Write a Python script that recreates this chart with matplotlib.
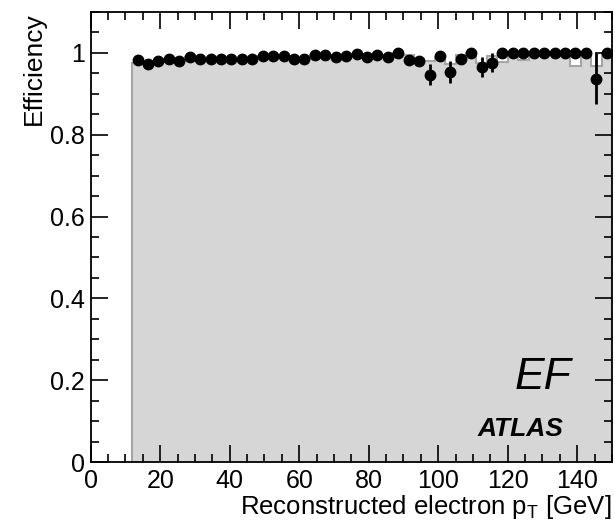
import numpy as np
import matplotlib
matplotlib.use("Agg")
from matplotlib import pyplot as plt
from matplotlib.ticker import MultipleLocator

# 3 GeV bins from 12 to 150 GeV
bin_edges = np.arange(12, 151, 3)
bin_centers = 0.5 * (bin_edges[:-1] + bin_edges[1:])

# measured efficiency (points)
eff = [0.982, 0.974, 0.980, 0.985, 0.980, 0.990, 0.986, 0.986, 0.986, 0.986,
       0.986, 0.986, 0.993, 0.993, 0.993, 0.986, 0.986, 0.996, 0.996, 0.990,
       0.992, 0.997, 0.990, 0.996, 0.990, 1.000, 0.982, 0.980, 0.947, 0.992,
       0.953, 0.984, 1.000, 0.966, 0.976, 1.000, 1.000, 1.000, 1.000, 1.000,
       1.000, 1.000, 1.000, 1.000, 0.937, 1.000]
eff_err = [0.003] * 26 + [0.005, 0.005, 0.026, 0.004, 0.026, 0.012, 0.0, 0.024, 0.023,
                         0.0, 0.0, 0.0, 0.0, 0.0, 0.0, 0.0, 0.0, 0.0, 0.062, 0.0]

# simulation (grey histogram)
mc_eff = [0.975, 0.974, 0.980, 0.985, 0.980, 0.990, 0.986, 0.986, 0.986, 0.986,
          0.986, 0.986, 0.993, 0.993, 0.993, 0.986, 0.986, 0.996, 0.996, 0.990,
          0.992, 0.997, 0.990, 0.996, 0.990, 1.000, 0.994, 0.985, 0.980, 0.990,
          0.974, 0.994, 1.000, 0.976, 0.992, 0.978, 1.000, 0.982, 1.000, 1.000,
          1.000, 1.000, 0.968, 1.000, 0.968, 1.000]

plt.rcParams['font.family'] = ['Liberation Sans', 'DejaVu Sans']
plt.rcParams['mathtext.fontset'] = 'custom'
plt.rcParams['mathtext.rm'] = 'Liberation Sans'
plt.rcParams['mathtext.it'] = 'Liberation Sans:italic'

fig = plt.figure(figsize=(6.15, 5.21), dpi=100)
ax = fig.add_axes([0.1475, 0.1132, 0.8475, 0.8638])

ax.stairs(mc_eff, bin_edges, fill=True, facecolor='#d6d6d6', edgecolor='#a6a6a6',
          linewidth=1.5, zorder=1)
ax.errorbar(bin_centers, eff, yerr=eff_err, fmt='o', color='k', ms=7.5,
            elinewidth=2, capsize=0, zorder=3)

ax.set_xlim(0, 150)
ax.set_ylim(0, 1.1)
ax.xaxis.set_major_locator(MultipleLocator(20))
ax.xaxis.set_minor_locator(MultipleLocator(5))
ax.yaxis.set_minor_locator(MultipleLocator(0.05))
ax.set_yticks([0, 0.2, 0.4, 0.6, 0.8, 1.0])
ax.set_yticklabels(['0', '0.2', '0.4', '0.6', '0.8', '1'])

ax.tick_params(which='both', direction='in', top=True, right=True, labelsize=18)
ax.tick_params(which='major', length=12, width=1.2)
ax.tick_params(which='minor', length=6, width=1.2)
ax.tick_params(axis='x', pad=5)
ax.tick_params(axis='y', pad=4)
for s in ax.spines.values():
    s.set_linewidth(1.3)

ax.set_xlabel(r'Reconstructed electron p$_{\mathrm{T}}$ [GeV]', fontsize=18.5,
              loc='right', labelpad=0)
ax.set_ylabel('Efficiency', fontsize=19, loc='top', labelpad=3)

ax.text(0.923, 0.187, 'EF', transform=ax.transAxes, fontsize=32, style='italic',
        ha='right', va='center')
ax.text(0.906, 0.073, 'ATLAS', transform=ax.transAxes, fontsize=19,
        style='italic', weight='bold', ha='right', va='center')

fig.savefig('out.png', dpi=100)
